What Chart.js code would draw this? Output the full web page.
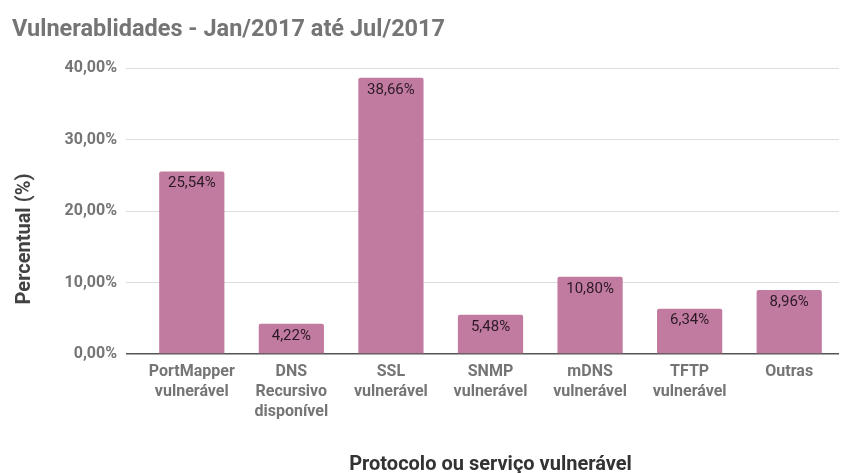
<!DOCTYPE html>
<html>
<head>
<meta charset="utf-8">
<script src="https://cdn.jsdelivr.net/npm/chart.js@4"></script>
<style>
  html, body { margin: 0; padding: 0; background: #fff; }
  #wrap { width: 843px; height: 473px; position: relative; }
</style>
</head>
<body>
<div id="wrap"><canvas id="chart"></canvas></div>
<script>
const categories = [
  ['PortMapper', 'vulnerável'],
  ['DNS', 'Recursivo', 'disponível'],
  ['SSL', 'vulnerável'],
  ['SNMP', 'vulnerável'],
  ['mDNS', 'vulnerável'],
  ['TFTP', 'vulnerável'],
  ['Outras']
];
const percentages = [25.54, 4.22, 38.66, 5.48, 10.80, 6.34, 8.96];
const yTicks = [0, 10, 20, 30, 40];

const fmt = v => v.toFixed(2).replace('.', ',') + '%';

// value written just inside the top of each bar
const barValues = {
  id: 'barValues',
  afterDatasetsDraw(chart) {
    const ctx = chart.ctx;
    ctx.save();
    ctx.font = '15px Roboto';
    ctx.fillStyle = '#2b1a25';
    ctx.textAlign = 'center';
    ctx.textBaseline = 'middle';
    chart.getDatasetMeta(0).data.forEach((bar, i) => {
      ctx.fillText(fmt(percentages[i]), bar.x, bar.y + 12);
    });
    ctx.restore();
  }
};

// y axis title, sits a bit lower than the plot's centre
const yTitle = {
  id: 'yTitle',
  afterDraw(chart) {
    const ctx = chart.ctx;
    ctx.save();
    ctx.translate(25, 239);
    ctx.rotate(-Math.PI / 2);
    ctx.font = 'bold 20px Roboto';
    ctx.fillStyle = '#424242';
    ctx.textAlign = 'center';
    ctx.textBaseline = 'middle';
    ctx.fillText('Percentual (%)', 0, 0);
    ctx.restore();
  }
};

new Chart(document.getElementById('chart'), {
  type: 'bar',
  data: {
    labels: categories,
    datasets: [{
      data: percentages,
      backgroundColor: '#c27ba0',
      borderRadius: 2,
      borderSkipped: 'bottom',
      categoryPercentage: 1,
      barPercentage: 0.655
    }]
  },
  options: {
    responsive: true,
    maintainAspectRatio: false,
    animation: false,
    layout: { padding: { left: 12, right: 4, top: 10, bottom: 0 } },
    plugins: {
      legend: { display: false },
      tooltip: { enabled: false },
      title: {
        display: true,
        text: 'Vulnerablidades - Jan/2017 até Jul/2017',
        align: 'start',
        color: '#757575',
        font: { family: 'Roboto', size: 23.5, weight: 'bold' },
        padding: { top: 6, bottom: 24 }
      }
    },
    scales: {
      x: {
        grid: { display: false, drawTicks: false },
        border: { display: false },
        ticks: {
          color: '#757575',
          font: { family: 'Roboto', size: 16, weight: 'bold', lineHeight: '20px' },
          padding: 8,
          maxRotation: 0,
          autoSkip: false
        },
        title: {
          display: true,
          text: 'Protocolo ou serviço vulnerável',
          color: '#333333',
          font: { family: 'Roboto', size: 20, weight: 'bold', lineHeight: 0.8 },
          padding: 0
        },
        afterFit(scale) { scale.height = 119; }
      },
      y: {
        min: 0,
        max: 40,
        afterBuildTicks(scale) { scale.ticks = yTicks.map(v => ({ value: v })); },
        grid: {
          color: ctx => ctx.tick && ctx.tick.value === 0 ? '#555555' : '#dddddd',
          tickLength: 16,
          lineWidth: ctx => ctx.tick && ctx.tick.value === 0 ? 1.5 : 1
        },
        border: { display: false },
        ticks: {
          color: '#757575',
          font: { family: 'Roboto', size: 16, weight: 'bold' },
          padding: 9,
          callback: v => fmt(v)
        },
        afterFit(scale) { scale.width = 130; }
      }
    }
  },
  plugins: [barValues, yTitle]
});
</script>
</body>
</html>
